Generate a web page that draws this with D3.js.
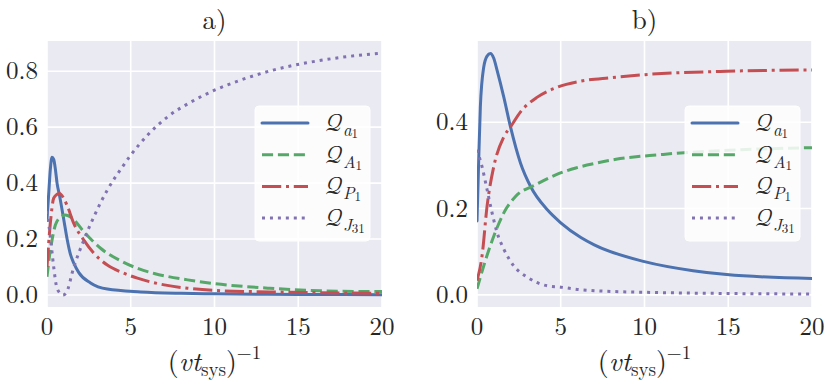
<!DOCTYPE html>
<meta charset="utf-8">
<style>
    body { margin: 0; background: #fff; }
</style>
<svg width="830" height="392"></svg>
<script src="https://d3js.org/d3.v7.min.js"></script>
<script>
    // x ticks shared by both panels
    var xTicks = [0, 5, 10, 15, 20];
    var yTicksA = [0.0, 0.2, 0.4, 0.6, 0.8];
    var yTicksB = [0.0, 0.2, 0.4];

    var seriesSubs = [["a", "1"], ["A", "1"], ["P", "1"], ["J", "31"]];

    // panel a)  [x, Q]
    var aQa1 = [[0,0.27],[0.1,0.36],[0.2,0.45],[0.3,0.492],[0.4,0.485],[0.5,0.45],[0.6,0.40],[0.75,0.355],[1.0,0.27],[1.2,0.20],[1.4,0.145],[1.6,0.114],[1.9,0.08],[2.6,0.043],[3.6,0.021],[5.6,0.011],[8,0.006],[10,0.004],[15,0.002],[20,0.001]];
    var aQA1 = [[0,0.065],[0.15,0.14],[0.3,0.196],[0.5,0.25],[0.8,0.278],[1.1,0.286],[1.5,0.275],[2.2,0.226],[3.2,0.167],[4.5,0.119],[5.5,0.093],[6.4,0.077],[8.4,0.054],[10.4,0.038],[13.3,0.024],[16.3,0.015],[20,0.012]];
    var aQP1 = [[0,0.10],[0.2,0.257],[0.4,0.346],[0.6,0.36],[0.75,0.363],[1.0,0.345],[1.2,0.32],[1.6,0.256],[2.2,0.196],[2.8,0.149],[3.6,0.107],[4.5,0.08],[5.4,0.06],[7.0,0.036],[8.4,0.024],[10.4,0.015],[13.3,0.011],[20,0.006]];
    var aQJ31 = [[0,0.30],[0.2,0.208],[0.4,0.10],[0.55,0.036],[0.75,0.008],[0.95,0.0],[1.15,0.008],[1.6,0.10],[2.2,0.196],[2.8,0.28],[3.6,0.375],[4.5,0.458],[5.0,0.5],[6.0,0.571],[7.2,0.637],[8.6,0.69],[10,0.732],[11.55,0.768],[13.5,0.804],[15.5,0.83],[17.5,0.849],[20,0.865]];

    // panel b)
    var bQa1 = [[0,0.171],[0.1,0.31],[0.2,0.435],[0.4,0.527],[0.6,0.553],[0.8,0.559],[1.0,0.548],[1.2,0.52],[1.6,0.458],[2.0,0.389],[2.6,0.305],[3.2,0.251],[4.2,0.197],[5,0.167],[6.2,0.133],[7,0.116],[10,0.077],[12.9,0.056],[14.9,0.047],[20,0.038]];
    var bQA1 = [[0,0.014],[0.4,0.067],[1.0,0.136],[1.6,0.19],[2.3,0.228],[3.5,0.255],[4.7,0.278],[5.9,0.294],[7.1,0.305],[8.3,0.314],[9.5,0.32],[10.7,0.324],[11.9,0.328],[15,0.335],[20,0.341]];
    var bQP1 = [[0,0.033],[0.3,0.09],[0.6,0.205],[1.0,0.297],[1.6,0.366],[2.0,0.389],[2.6,0.424],[3.6,0.458],[4.8,0.481],[6.2,0.495],[8,0.503],[10,0.51],[14.9,0.518],[20,0.521]];
    var bQJ31 = [[0,0.336],[0.3,0.297],[0.6,0.244],[0.9,0.19],[1.2,0.144],[1.6,0.106],[2.2,0.067],[3.0,0.041],[4.2,0.021],[5,0.018],[6.2,0.012],[10,0.006],[20,0.002]];

    var colors = ["#4C72B0", "#55A868", "#C44E52", "#8172B2"];
    var dashes = [null, "11.1,4.8", "19.2,4.8,3,4.8", "3,4.95"];

    var FONT = "'Latin Modern Roman', 'CMU Serif', serif";
    var MATH = "'Latin Modern Math', 'Latin Modern Roman', serif";
    var INK = "#262626";

    var svg = d3.select("svg").style("font-family", FONT);

    var panels = [
        {id: "a", title: "a)", left: 47, yDomain: [-0.043, 0.908], yTicks: yTicksA, series: [aQa1, aQA1, aQP1, aQJ31]},
        {id: "b", title: "b)", left: 477, yDomain: [-0.028, 0.588], yTicks: yTicksB, series: [bQa1, bQA1, bQP1, bQJ31]}
    ];

    var plotTop = 41, plotBottom = 307, plotW = 335, legTop = 106;

    function txt(sel, size) {
        return sel.append("text")
            .style("font-family", FONT)
            .style("font-size", size + "px")
            .attr("fill", INK);
    }

    panels.forEach(function (p) {
        var x = d3.scaleLinear().domain([0, 20]).range([p.left, p.left + plotW]);
        var y = d3.scaleLinear().domain(p.yDomain).range([plotBottom, plotTop]);
        var g = svg.append("g");

        g.append("rect")
            .attr("x", p.left).attr("y", plotTop)
            .attr("width", plotW).attr("height", plotBottom - plotTop)
            .attr("fill", "#EAEAF2");

        g.selectAll(".gx").data(xTicks).enter().append("line")
            .attr("x1", function (d) { return x(d); }).attr("x2", function (d) { return x(d); })
            .attr("y1", plotTop).attr("y2", plotBottom)
            .attr("stroke", "#fff").attr("stroke-width", 1.6);
        g.selectAll(".gy").data(p.yTicks).enter().append("line")
            .attr("x1", p.left).attr("x2", p.left + plotW)
            .attr("y1", function (d) { return y(d); }).attr("y2", function (d) { return y(d); })
            .attr("stroke", "#fff").attr("stroke-width", 1.6);

        // tick labels
        xTicks.forEach(function (d) {
            txt(g, 25).attr("x", x(d)).attr("y", 335)
                .attr("text-anchor", "middle").text(d);
        });
        p.yTicks.forEach(function (d) {
            txt(g, 25).attr("x", p.left - 9).attr("y", y(d) + 8)
                .attr("text-anchor", "end").text(d.toFixed(1));
        });

        txt(g, 27).attr("x", p.left + plotW / 2).attr("y", 29)
            .attr("text-anchor", "middle").text(p.title);

        var xl = txt(g, 28).attr("x", p.left + plotW / 2).attr("y", 371)
            .attr("text-anchor", "middle");
        xl.append("tspan").text("(");
        xl.append("tspan").style("font-style", "italic").text("vt");
        xl.append("tspan").style("font-size", "19px").attr("dy", 5).text("sys");
        xl.append("tspan").attr("dy", -5).text(")");
        xl.append("tspan").style("font-size", "19px").attr("dy", -12).text("\u22121");

        // curves
        var clipId = "clip" + p.id;
        svg.append("clipPath").attr("id", clipId).append("rect")
            .attr("x", p.left).attr("y", plotTop).attr("width", plotW).attr("height", plotBottom - plotTop);

        var line = d3.line()
            .x(function (d) { return x(d[0]); })
            .y(function (d) { return y(d[1]); })
            .curve(d3.curveMonotoneX);

        g.append("g").attr("clip-path", "url(#" + clipId + ")")
            .selectAll("path").data(p.series).enter().append("path")
            .attr("d", line)
            .attr("fill", "none")
            .attr("stroke", function (d, i) { return colors[i]; })
            .attr("stroke-width", 3)
            .attr("stroke-linecap", function (d, i) { return i === 0 ? "round" : "butt"; })
            .attr("stroke-dasharray", function (d, i) { return dashes[i]; });

        // legend
        var lx = p.left + plotW - 127, ly = legTop;
        var leg = g.append("g");
        leg.append("rect")
            .attr("x", lx).attr("y", ly).attr("width", 115).attr("height", 135)
            .attr("rx", 4)
            .attr("fill", "#fff").attr("fill-opacity", 0.85)
            .attr("stroke", "#fff");
        seriesSubs.forEach(function (s, i) {
            var ry = ly + 17 + i * 31.7;
            leg.append("line")
                .attr("x1", lx + 7).attr("x2", lx + 53)
                .attr("y1", ry).attr("y2", ry)
                .attr("stroke", colors[i]).attr("stroke-width", 3)
                .attr("stroke-linecap", i === 0 ? "round" : "butt")
                .attr("stroke-dasharray", dashes[i]);
            var t = txt(leg, 25).attr("x", lx + 70).attr("y", ry + 8);
            t.append("tspan").style("font-family", MATH).text("\uD835\uDCAC");
            t.append("tspan").style("font-size", "17px").style("font-style", "italic")
                .attr("dy", 5).text(s[0]);
            t.append("tspan").style("font-size", "13px").attr("dy", 2).text(s[1]);
        });
    });
</script>
